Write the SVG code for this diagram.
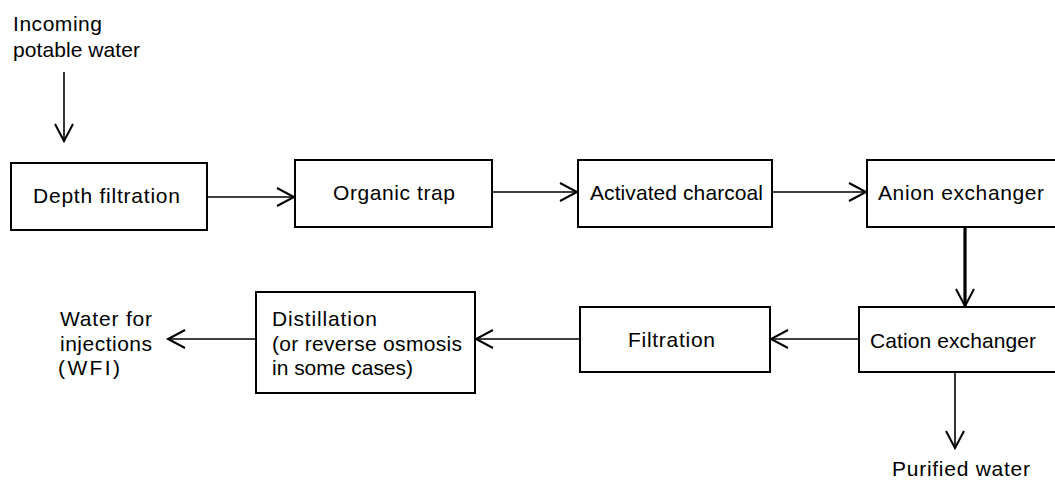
<svg xmlns="http://www.w3.org/2000/svg" width="1055" height="480" viewBox="0 0 1055 480">
<style>
.box{fill:#fff;stroke:#000;stroke-width:2}
.t{font-family:"Liberation Sans",Arial,sans-serif;font-size:21px;fill:#000}
.ln{stroke:#000;stroke-width:1.6;fill:none}
.thick{stroke-width:3.2}
</style>
<defs>
<marker id="ah" markerUnits="userSpaceOnUse" markerWidth="24" markerHeight="24" refX="18" refY="10" orient="auto">
<path d="M1,1 L18,10 L1,19" fill="none" stroke="#000" stroke-width="2"/>
</marker>
</defs>
<rect width="1055" height="480" fill="#fff"/>
<g id="connectors">
<line class="ln" x1="64" y1="72" x2="64" y2="141" marker-end="url(#ah)"/>
<line class="ln" x1="207" y1="197" x2="294" y2="197" marker-end="url(#ah)"/>
<line class="ln" x1="492" y1="192" x2="577" y2="192" marker-end="url(#ah)"/>
<line class="ln" x1="772" y1="192" x2="866" y2="192" marker-end="url(#ah)"/>
<line class="ln thick" x1="965" y1="227" x2="965" y2="306" marker-end="url(#ah)"/>
<line class="ln" x1="859" y1="339" x2="771" y2="339" marker-end="url(#ah)"/>
<line class="ln" x1="580" y1="339" x2="476" y2="339" marker-end="url(#ah)"/>
<line class="ln" x1="256" y1="339" x2="168" y2="339" marker-end="url(#ah)"/>
<line class="ln" x1="955" y1="372" x2="955" y2="448" marker-end="url(#ah)"/>
</g>
<g id="incoming">
<text class="t" x="13" y="31" textLength="89">Incoming</text>
<text class="t" x="13" y="57" textLength="127">potable water</text>
</g>
<g id="depth">
<rect class="box" x="11" y="163" width="196" height="67"/>
<text class="t" x="33" y="203" textLength="147">Depth filtration</text>
</g>
<g id="organic">
<rect class="box" x="295" y="160" width="197" height="67"/>
<text class="t" x="333" y="200" textLength="122">Organic trap</text>
</g>
<g id="charcoal">
<rect class="box" x="578" y="160" width="194" height="67"/>
<text class="t" x="590" y="200" textLength="173">Activated charcoal</text>
</g>
<g id="anion">
<rect class="box" x="867" y="160" width="190" height="67"/>
<text class="t" x="878" y="200" textLength="166">Anion exchanger</text>
</g>
<g id="cation">
<rect class="box" x="859" y="307" width="198" height="65"/>
<text class="t" x="870" y="348" textLength="166">Cation exchanger</text>
</g>
<g id="filtration">
<rect class="box" x="580" y="307" width="190" height="65"/>
<text class="t" x="628" y="347" textLength="87">Filtration</text>
</g>
<g id="distillation">
<rect class="box" x="256" y="292" width="219" height="101"/>
<text class="t" x="272" y="326" textLength="105">Distillation</text>
<text class="t" x="272" y="351" textLength="190">(or reverse osmosis</text>
<text class="t" x="272" y="375" textLength="141">in some cases)</text>
</g>
<g id="wfi">
<text class="t" x="60" y="326" textLength="92">Water for</text>
<text class="t" x="60" y="351" textLength="92">injections</text>
<text class="t" x="58" y="375" textLength="62">(WFI)</text>
</g>
<g id="purified">
<text class="t" x="892" y="476" textLength="138">Purified water</text>
</g>
</svg>
